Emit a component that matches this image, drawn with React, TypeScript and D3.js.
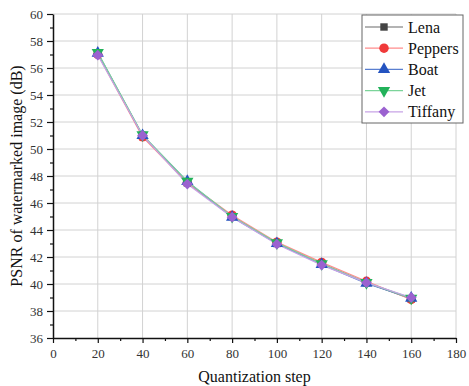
import React, { useEffect, useRef } from 'react';
import * as d3 from 'd3';

// quantization steps on the x axis
const steps = [20, 40, 60, 80, 100, 120, 140, 160];

// PSNR values (dB) per test image
const lena = [57.1, 51.0, 47.5, 45.0, 43.0, 41.5, 40.1, 38.9];
const peppers = [57.0, 50.9, 47.5, 45.1, 43.1, 41.6, 40.2, 38.85];
const boat = [57.1, 51.0, 47.6, 44.95, 43.0, 41.45, 40.05, 38.95];
const jet = [57.15, 51.05, 47.6, 45.0, 43.05, 41.5, 40.1, 38.95];
const tiffany = [56.95, 51.0, 47.4, 44.95, 42.95, 41.4, 40.1, 39.0];

const seriesNames = ['Lena', 'Peppers', 'Boat', 'Jet', 'Tiffany'];
const seriesValues = [lena, peppers, boat, jet, tiffany];

const xTicks = [0, 20, 40, 60, 80, 100, 120, 140, 160, 180];
const yTicks = [36, 38, 40, 42, 44, 46, 48, 50, 52, 54, 56, 58, 60];

const styles = [
    { line: '#6a6a6a', fill: '#444444', symbol: d3.symbolSquare, rot: 0, size: 55 },
    { line: '#ff8c8c', fill: '#f03a3a', symbol: d3.symbolCircle, rot: 0, size: 70 },
    { line: '#5a7fd0', fill: '#2453c0', symbol: d3.symbolTriangle, rot: 0, size: 65 },
    { line: '#7cd49a', fill: '#22b25a', symbol: d3.symbolTriangle, rot: 180, size: 65 },
    { line: '#c7a3e6', fill: '#9b62d0', symbol: d3.symbolDiamond2, rot: 0, size: 75 },
];

const FONT = "'Liberation Serif', serif";

export default function App() {
    const ref = useRef<SVGSVGElement>(null);

    useEffect(() => {
        const svg = d3.select(ref.current);
        svg.selectAll('*').remove();

        const margin = { left: 53, right: 13, top: 14, bottom: 48 };
        const width = 469, height = 386;

        const x = d3.scaleLinear().domain([0, 180]).range([margin.left, width - margin.right]);
        const y = d3.scaleLinear().domain([36, 60]).range([height - margin.bottom, margin.top]);

        // grid
        const grid = svg.append('g').attr('stroke', '#d2d2d2').attr('stroke-width', 1);
        xTicks.slice(1).forEach((t) => {
            grid.append('line').attr('x1', x(t)).attr('x2', x(t)).attr('y1', y(36)).attr('y2', y(60));
        });
        yTicks.slice(1).forEach((t) => {
            grid.append('line').attr('x1', x(0)).attr('x2', x(180)).attr('y1', y(t)).attr('y2', y(t));
        });

        // axes
        const xAxis = svg
            .append('g')
            .attr('transform', `translate(0,${y(36)})`)
            .call(d3.axisBottom(x).tickValues(xTicks).tickSize(5).tickPadding(6).tickSizeOuter(0));
        svg.append('g')
            .attr('transform', `translate(0,${y(36)})`)
            .call(d3.axisBottom(x).tickValues(d3.range(10, 180, 20)).tickSize(3).tickFormat(() => '').tickSizeOuter(0))
            .select('.domain')
            .remove();
        const yAxis = svg
            .append('g')
            .attr('transform', `translate(${x(0)},0)`)
            .call(d3.axisLeft(y).tickValues(yTicks).tickSize(6).tickPadding(4).tickSizeOuter(0));
        svg.append('g')
            .attr('transform', `translate(${x(0)},0)`)
            .call(d3.axisLeft(y).tickValues(d3.range(37, 60, 2)).tickSize(3).tickFormat(() => '').tickSizeOuter(0))
            .select('.domain')
            .remove();

        svg.selectAll('.domain').attr('stroke', '#111').attr('stroke-width', 1.5);
        svg.selectAll('.tick line').attr('stroke', '#111').attr('stroke-width', 1.2);
        [xAxis, yAxis].forEach((a) => {
            a.attr('font-family', null);
            a.selectAll('text').style('font-family', FONT).attr('font-size', 13).attr('fill', '#333');
        });

        // axis titles
        svg.append('text')
            .attr('x', x(90))
            .attr('y', 382)
            .attr('text-anchor', 'middle')
            .style('font-family', FONT)
            .attr('font-size', 16)
            .attr('fill', '#111')
            .text('Quantization step');
        svg.append('text')
            .attr('transform', `translate(22,${(y(36) + y(60)) / 2}) rotate(-90)`)
            .attr('text-anchor', 'middle')
            .style('font-family', FONT)
            .attr('font-size', 16)
            .attr('fill', '#111')
            .text('PSNR of watermarked image (dB)');

        // series
        const line = d3
            .line<number>()
            .x((d, i) => x(steps[i]))
            .y((d) => y(d));
        seriesValues.forEach((vals, si) => {
            const st = styles[si];
            svg.append('path')
                .attr('d', line(vals))
                .attr('fill', 'none')
                .attr('stroke', st.line)
                .attr('stroke-width', 1.2);
        });
        seriesValues.forEach((vals, si) => {
            const st = styles[si];
            const sym = d3.symbol().type(st.symbol).size(st.size);
            svg.append('g')
                .selectAll('path')
                .data(vals)
                .enter()
                .append('path')
                .attr('d', sym())
                .attr('transform', (d, i) => `translate(${x(steps[i])},${y(d)}) rotate(${st.rot})`)
                .attr('fill', st.fill);
        });

        // legend
        const lg = svg.append('g').attr('transform', 'translate(362,15)');
        lg.append('rect')
            .attr('width', 101)
            .attr('height', 108)
            .attr('fill', '#fff')
            .attr('stroke', '#666')
            .attr('stroke-width', 1);
        seriesNames.forEach((name, si) => {
            const st = styles[si];
            const cy = 12 + si * 21.2;
            lg.append('line').attr('x1', 3).attr('x2', 41).attr('y1', cy).attr('y2', cy).attr('stroke', st.line).attr('stroke-width', 1.2);
            lg.append('path')
                .attr('d', d3.symbol().type(st.symbol).size(st.size)())
                .attr('transform', `translate(22,${cy}) rotate(${st.rot})`)
                .attr('fill', st.fill);
            lg.append('text')
                .attr('x', 46)
                .attr('y', cy + 5.5)
                .style('font-family', FONT)
                .attr('font-size', 16)
                .attr('fill', '#111')
                .text(name);
        });
    }, []);

    return <svg ref={ref} width={469} height={386} style={{ display: 'block', position: 'absolute', left: 0, top: 0, background: '#fff' }} />;
}
